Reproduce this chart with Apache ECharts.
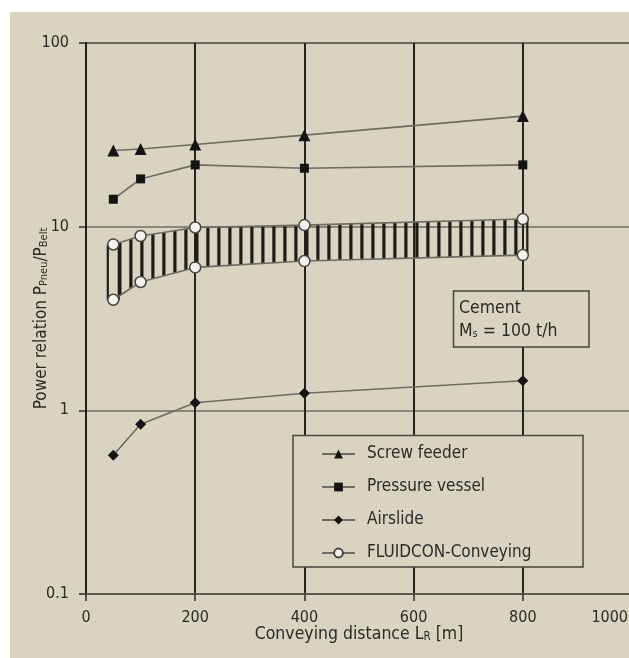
<!DOCTYPE html>
<html>
<head>
<meta charset="UTF-8">
<title>Power relation</title>
<script src="https://cdn.jsdelivr.net/npm/echarts@6/dist/echarts.min.js"></script>
<style>
  html, body { margin: 0; padding: 0; background: #fff; }
  #bg { position: absolute; left: 10px; top: 12px; right: 0; bottom: 0; background: #d8d4c1; }
  #chart { position: absolute; left: 0; top: 0; width: 629px; height: 658px; }
</style>
</head>
<body>
<div id="bg"></div>
<div id="chart"></div>
<script>
// conveying distance [m]
var distance = [50, 100, 200, 400, 800];
// power relation P_Pneu / P_Belt
var screwFeeder = [26, 26.5, 28, 31.5, 40];
var pressureVessel = [14.1, 18.2, 21.7, 20.8, 21.7];
var airslide = [0.57, 0.84, 1.1, 1.24, 1.45];
var fluidconUpper = [8, 8.9, 9.9, 10.2, 11];
var fluidconLower = [4, 5, 6, 6.5, 7];
var seriesNames = ['Screw feeder', 'Pressure vessel', 'Airslide', 'FLUIDCON-Conveying'];

var FONT = '"Liberation Sans Narrow", "DejaVu Sans Condensed", "Liberation Sans", sans-serif';
var INK = '#2a2a26';

function pairs(ys) {
    return distance.map(function (d, i) { return [d, ys[i]]; });
}

// vertical hatching for the FLUIDCON band
var hatch = document.createElement('canvas');
hatch.width = 11;
hatch.height = 8;
var hctx = hatch.getContext('2d');
hctx.fillStyle = '#1c1c19';
hctx.fillRect(8.3, 0, 2.7, 8);
hctx.fillRect(0, 0, 0.5, 8);

var lineSeries = function (name, ys, symbol, size, fill) {
    return {
        name: name,
        type: 'line',
        data: pairs(ys),
        symbol: symbol,
        symbolSize: size,
        z: 3,
        lineStyle: {color: '#6e6c62', width: 1.6},
        itemStyle: fill ? {color: fill, borderColor: '#45443d', borderWidth: 1.5} : {color: '#141412'},
        emphasis: {disabled: true}
    };
};

var chart = echarts.init(document.getElementById('chart'));
chart.setOption({
    animation: false,
    textStyle: {fontFamily: FONT},
    grid: {left: 86, top: 43, right: -3, bottom: 64, outerBoundsMode: 'none', containLabel: false},
    xAxis: {
        type: 'value', min: 0, max: 1000, interval: 200,
        name: 'Conveying distance L{sub|R} [m]',
        nameLocation: 'middle', nameGap: 31, nameMoveOverlap: false,
        nameTextStyle: {
            fontSize: 17.5, color: INK, fontFamily: FONT,
            rich: {sub: {fontSize: 11.5, color: INK, fontFamily: FONT, verticalAlign: 'bottom', lineHeight: 12}}
        },
        axisLine: {show: true, lineStyle: {color: '#5a584f', width: 2}},
        axisTick: {show: true, length: 7, lineStyle: {color: '#2a2a26', width: 1.5}},
        axisLabel: {
            fontSize: 16, color: INK, margin: 16, fontFamily: FONT, alignMaxLabel: 'right',
            formatter: function (v) { return v === 1000 ? '{m|1000}' : String(v); },
            rich: {m: {fontSize: 16, color: INK, fontFamily: FONT, padding: [0, 4, 0, 0]}}
        },
        splitLine: {show: true, lineStyle: {color: '#23231f', width: 2}}
    },
    yAxis: {
        type: 'log', logBase: 10, min: 0.1, max: 100,
        name: 'Power relation P{sub|Pneu}/P{sub|Belt}',
        nameLocation: 'middle', nameGap: 36, nameMoveOverlap: false,
        nameTextStyle: {
            fontSize: 17, color: INK, fontFamily: FONT,
            rich: {sub: {fontSize: 11, color: INK, fontFamily: FONT, verticalAlign: 'bottom', lineHeight: 12}}
        },
        axisLine: {show: true, lineStyle: {color: '#1e1e1a', width: 2}},
        axisTick: {show: true, length: 7, lineStyle: {color: '#2a2a26', width: 1.5}},
        axisLabel: {
            fontSize: 16, color: INK, margin: 17, fontFamily: FONT,
            formatter: function (v) { return v < 1 ? '0.1' : String(Math.round(v)); }
        },
        minorTick: {show: false},
        splitLine: {show: true, lineStyle: {color: ['#5a584f', '#6f6d62', '#6f6d62', '#46453d'], width: 1.6}}
    },
    legend: {
        data: seriesNames,
        orient: 'vertical',
        left: 321, top: 444,
        itemWidth: 33, itemHeight: 11, itemGap: 13,
        padding: 0,
        textStyle: {fontSize: 17, color: INK, fontFamily: FONT, padding: [0, 0, 0, 7], lineHeight: 20},
        selectedMode: false
    },
    graphic: [
        {type: 'rect', z: 3, shape: {x: 293, y: 435.5, width: 290, height: 131.5},
         style: {fill: '#d8d4c1', stroke: '#45443d', lineWidth: 1.5}},
        {type: 'rect', z: 3, shape: {x: 453.5, y: 291, width: 135.5, height: 56},
         style: {fill: '#d8d4c1', stroke: '#45443d', lineWidth: 1.5}},
        {type: 'text', z: 4, x: 459, y: 299,
         style: {text: 'Cement', fontSize: 17.5, fontFamily: FONT, fill: INK}},
        {type: 'text', z: 4, x: 459, y: 322,
         style: {text: 'M{sub|s} = 100 t/h', fontSize: 17.5, fontFamily: FONT, fill: INK,
                 rich: {sub: {fontSize: 11, fontFamily: FONT, fill: INK, verticalAlign: 'bottom', lineHeight: 12}}}}
    ],
    series: [
        {
            name: 'band',
            type: 'custom',
            silent: true,
            z: 1,
            data: [[distance[0], fluidconLower[0]]],
            renderItem: function (params, api) {
                var top = distance.map(function (d, i) { return api.coord([d, fluidconUpper[i]]); });
                var bottom = distance.map(function (d, i) { return api.coord([d, fluidconLower[i]]); });
                var n = distance.length - 1;
                var edge = {stroke: '#1c1c19', lineWidth: 2.2};
                return {
                    type: 'group',
                    children: [
                        {type: 'polygon', shape: {points: top.concat(bottom.slice().reverse())},
                         style: {fill: {image: hatch, repeat: 'repeat'}, stroke: null}},
                        {type: 'line', shape: {x1: top[0][0] - 5.5, y1: top[0][1], x2: bottom[0][0] - 5.5, y2: bottom[0][1]}, style: edge},
                        {type: 'line', shape: {x1: top[0][0] + 5.5, y1: top[0][1], x2: bottom[0][0] + 5.5, y2: bottom[0][1]}, style: edge},
                        {type: 'line', shape: {x1: top[n][0] + 4.5, y1: top[n][1], x2: bottom[n][0] + 4.5, y2: bottom[n][1]}, style: edge}
                    ]
                };
            }
        },
        lineSeries('Screw feeder', screwFeeder, 'triangle', 12),
        lineSeries('Pressure vessel', pressureVessel, 'rect', 9),
        lineSeries('Airslide', airslide, 'diamond', 11),
        lineSeries('FLUIDCON-Conveying', fluidconUpper, 'circle', 11, '#f3f2ec'),
        lineSeries('FLUIDCON-Conveying', fluidconLower, 'circle', 11, '#f3f2ec')
    ]
});
</script>
</body>
</html>
